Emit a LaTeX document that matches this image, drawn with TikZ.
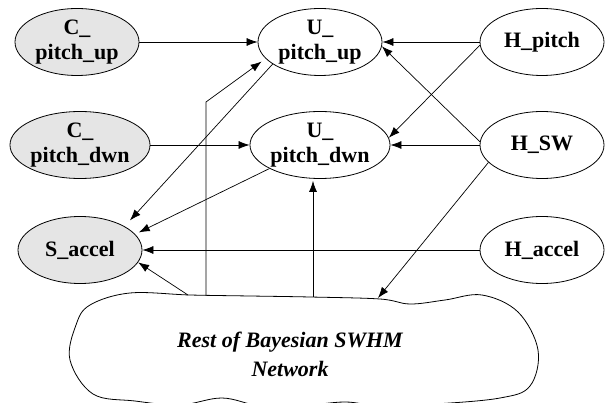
\documentclass[tikz,border=0pt]{standalone}
\usepackage{fontspec}
\setmainfont{Liberation Serif}
\usetikzlibrary{shapes.geometric,arrows.meta}
\begin{document}
\begin{tikzpicture}[x=1pt,y=-1pt,
  nd/.style={ellipse,draw,line width=0.8pt,minimum width=124pt,minimum height=67pt,inner sep=0pt,align=center,font=\fontsize{22}{25}\selectfont\bfseries},
  obs/.style={nd,fill=black!10},
  arr/.style={line width=0.7pt,-{Latex[length=11pt,width=8pt]}},
  cloudline/.style={line width=0.8pt}]
\useasboundingbox (0,0) rectangle (605,403);
% nodes
\node[obs] (Cu) at (77,42) {C\_\\pitch\_up};
\node[obs] (Cd) at (80,145) {C\_\\pitch\_dwn};
\node[obs] (Sa) at (80,250) {S\_accel};
\node[nd] (Uu) at (320,42) {U\_\\pitch\_up};
\node[nd] (Ud) at (320,145) {U\_\\pitch\_dwn};
\node[nd] (Hp) at (542,42) {H\_pitch};
\node[nd] (Hs) at (542,145) {H\_SW};
\node[nd] (Ha) at (542,250) {H\_accel};
% cloud
\draw[cloudline] plot[smooth cycle, tension=0.6] coordinates {
 (90,305) (130,293) (190,295) (250,296) (310,297) (380,299) (410,304) (445,300)
 (482,295) (518,312) (538,350) (530,386) (500,398) (435,404) (380,406) (345,402)
 (300,406) (260,406) (222,398) (180,405) (135,401) (93,394) (70,360) (76,325)};
\node[font=\fontsize{22}{29}\selectfont\bfseries\itshape,align=center] (net) at (290,354)
  {Rest of Bayesian SWHM\\Network};
\coordinate (ct1) at (188,295);
\coordinate (ct2) at (206,296);
\coordinate (bend) at (206,102);
\coordinate (ct4) at (313,297);
\coordinate (ct3) at (378,298);
% edges
\draw[arr] (Cu) -- (Uu);
\draw[arr] (Cd) -- (Ud);
\draw[arr] (Hp) -- (Uu);
\draw[arr] (Hs) -- (Ud);
\draw[arr] (Hp.183) -- (Ud.6);
\draw[arr] (Hs.177) -- (Uu.-4);
\draw[arr] (Ha) -- (Sa);
\draw[arr] (Hs.198) -- (ct3);
\draw[arr,shorten >=8pt] (Uu.205) -- (Sa.28);
\draw[arr,shorten >=4pt] (Ud.205) -- (Sa.16);
\draw[arr] (ct1) -- (Sa.-12);
\draw[arr,shorten >=5pt] (ct2) -- (bend) -- (Uu.197);
\draw[arr,shorten >=2pt] (ct4) -- (ct4 |- Ud.south);
\end{tikzpicture}
\end{document}
